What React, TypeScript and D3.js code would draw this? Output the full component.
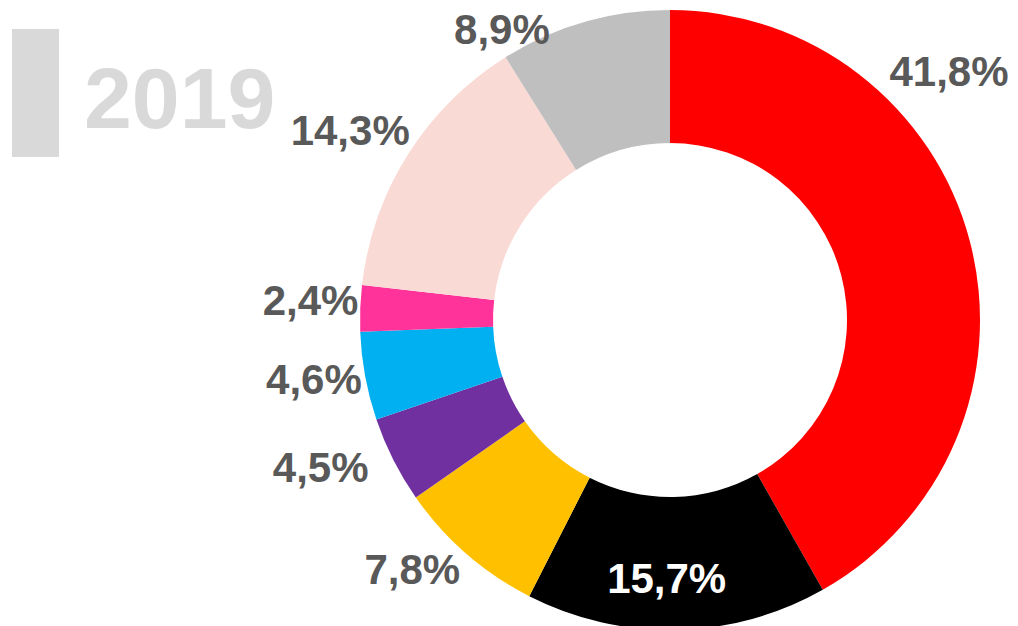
import React from "react";
import * as d3 from "d3";

const categories = ["A", "B", "C", "D", "E", "F", "G", "H"];
const values = [41.8, 15.7, 7.8, 4.5, 4.6, 2.4, 14.3, 8.9];
const labels = ["41,8%", "15,7%", "7,8%", "4,5%", "4,6%", "2,4%", "14,3%", "8,9%"];
const colors = ["#FF0000", "#000000", "#FFC000", "#7030A0", "#00B0F0", "#FF3399", "#FADAD5", "#BFBFBF"];
const labelColors = ["#595959", "#FFFFFF", "#595959", "#595959", "#595959", "#595959", "#595959", "#595959"];
const title = "2019";

// label placement: angle shift (degrees) from slice mid-angle, radius from centre
const labelAngleShift = [-27, 2, 5, 4, 1, 1, -1.5, -14];
const labelRadius = [374, 258, 358, 379, 361, 360, 372, 336];

const W = 1018;
const H = 626;
const cx = 670;
const cy = 320;
const outerR = 310;
const innerR = 177;

export default function App() {
  const pie = d3.pie<number>().sort(null).value((d) => d)(values);
  const arc = d3.arc<d3.PieArcDatum<number>>().innerRadius(innerR).outerRadius(outerR);

  return (
    <svg
      width={W}
      height={H}
      style={{ position: "absolute", left: 0, top: 0 }}
      fontFamily="'Liberation Sans', Arial, sans-serif"
    >
      <rect x={12} y={29} width={47} height={128} fill="#D9D9D9" />
      <text x={84} y={128} fontSize={86} fontWeight="bold" fill="#D9D9D9">
        {title}
      </text>
      <g transform={`translate(${cx},${cy})`}>
        {pie.map((p, i) => (
          <path key={categories[i]} d={arc(p) || ""} fill={colors[i]} />
        ))}
        {pie.map((p, i) => {
          const mid = (p.startAngle + p.endAngle) / 2 + (labelAngleShift[i] * Math.PI) / 180;
          const r = labelRadius[i];
          const x = Math.sin(mid) * r;
          const y = -Math.cos(mid) * r;
          return (
            <text
              key={"l" + categories[i]}
              x={x}
              y={y + 15}
              textAnchor="middle"
              fontSize={42}
              fontWeight="bold"
              fill={labelColors[i]}
            >
              {labels[i]}
            </text>
          );
        })}
      </g>
    </svg>
  );
}
